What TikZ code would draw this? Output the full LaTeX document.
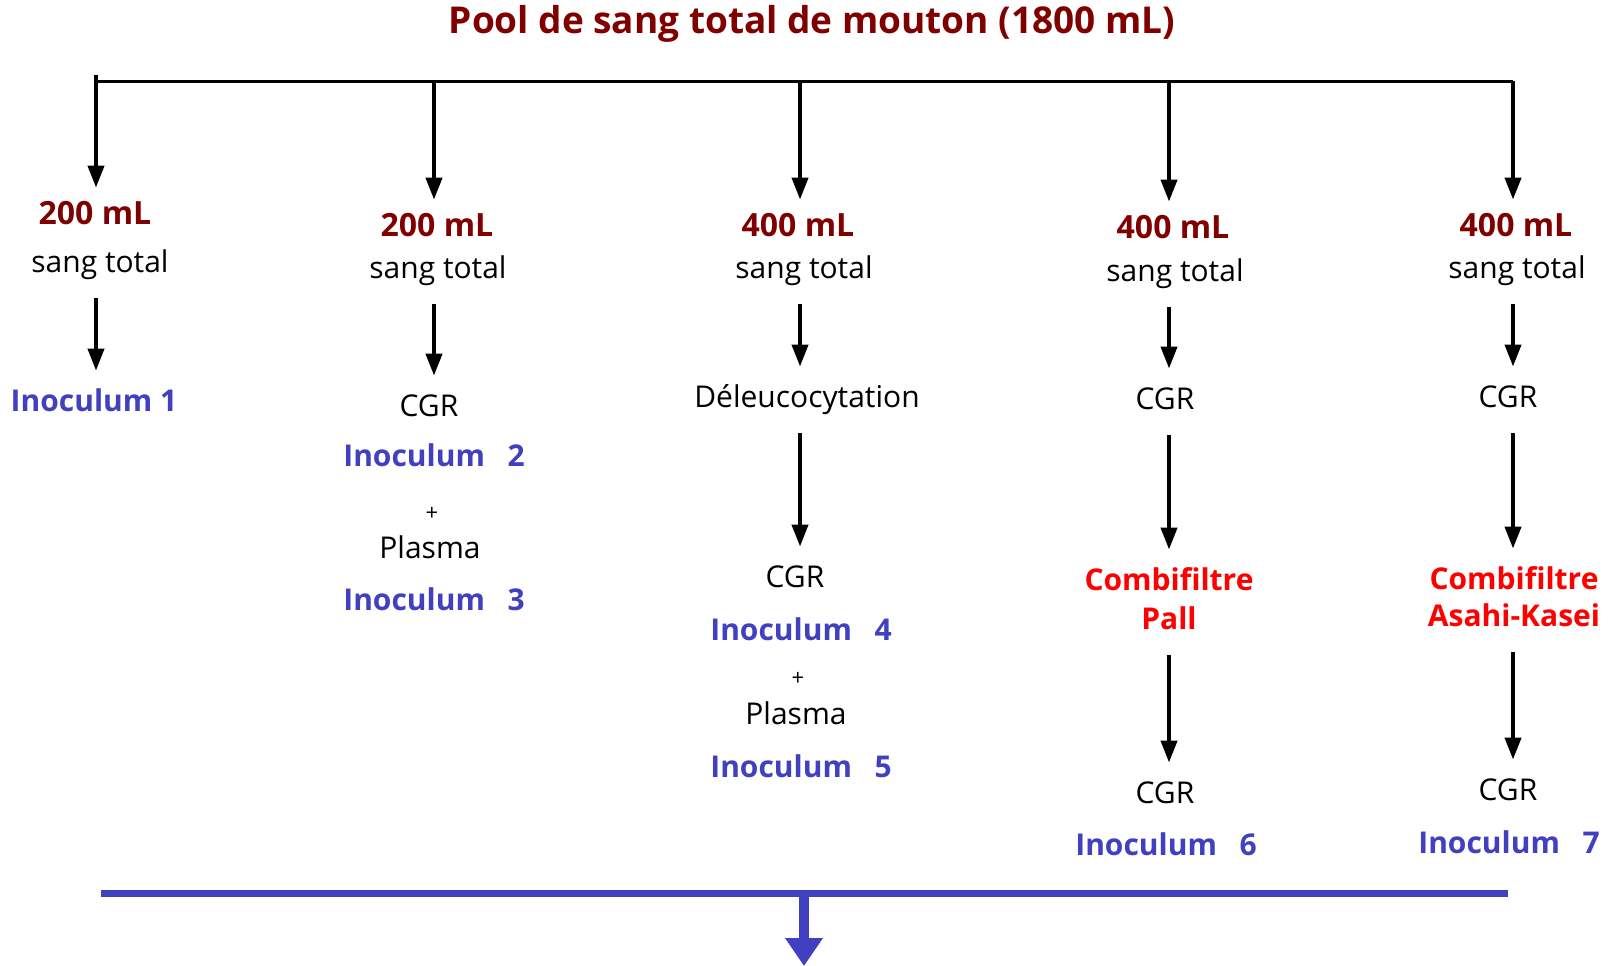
\documentclass[tikz,border=0pt]{standalone}
\usepackage{fontspec}
\setmainfont{Open Sans}
\usepackage{xcolor}
\usepackage{tikz}
\usetikzlibrary{arrows.meta}

\definecolor{sangrouge}{RGB}{128,0,0}
\definecolor{inocbleu}{RGB}{64,64,192}
\definecolor{filtrerouge}{RGB}{255,0,0}

\tikzset{
  txt/.style={inner sep=0pt, text height=11pt, text depth=3pt, yshift=-1.5pt, font=\fontsize{15}{18}\selectfont},
  titre/.style={inner sep=0pt, text=sangrouge, font=\fontsize{18.5}{22}\selectfont\bfseries},
  vol/.style={txt, text=sangrouge, font=\fontsize{16}{19}\selectfont\bfseries},
  inoc/.style={txt, text=inocbleu, font=\fontsize{15}{18}\selectfont\bfseries},
  filtre/.style={txt, text=filtrerouge, font=\fontsize{15}{18}\selectfont\bfseries},
  plus/.style={txt, font=\fontsize{11}{13}\selectfont},
  fleche/.style={-{Triangle[width=8pt,length=11pt]}, line width=2pt, shorten <=10pt, shorten >=9pt},
  haut/.style={fleche, shorten <=0pt, shorten >=7pt},
}

\begin{document}
\begin{tikzpicture}[x=0.5pt,y=-0.5pt]
    \useasboundingbox (0,0) rectangle (1617,965);
    \node[titre] (titre) at (812,24) {Pool de sang total de mouton (1800 mL)};
    % ligne de repartition
    \coordinate (h1) at (96,81);
    \coordinate (h2) at (434,81);
    \coordinate (h3) at (800,81);
    \coordinate (h4) at (1169,81);
    \coordinate (h5) at (1513,81);
    \draw[line width=1.5pt] (h1) -- (h5);

    % colonne 1
    \node[vol] (vol1) at (95,213) {200 mL};
    \node[txt] (sang1) at (100,261) {sang total};
    \node[inoc] (inoc1) at (94,400) {Inoculum 1};
    \draw[haut, shorten <=-3pt] (h1) -- (h1 |- vol1.north);
    \draw[fleche] (h1 |- sang1.south) -- (h1 |- inoc1.north);

    % colonne 2
    \node[vol] (vol2) at (437,225) {200 mL};
    \node[txt] (sang2) at (438,267) {sang total};
    \node[txt] (cgr2) at (429,405) {CGR};
    \node[inoc] (inoc2) at (434,455) {Inoculum\hspace{0.75em}2};
    \node[plus] (plus2) at (432,509) {+};
    \node[txt] (plasma2) at (430,547) {Plasma};
    \node[inoc] (inoc3) at (434,599) {Inoculum\hspace{0.75em}3};
    \draw[haut] (h2) -- (h2 |- vol2.north);
    \draw[fleche] (h2 |- sang2.south) -- (h2 |- cgr2.north);

    % colonne 3
    \node[vol] (vol3) at (798,225) {400 mL};
    \node[txt] (sang3) at (804,267) {sang total};
    \node[txt] (deleuco3) at (807,396) {Déleucocytation};
    \node[txt] (cgr3) at (795,576) {CGR};
    \node[inoc] (inoc4) at (801,629) {Inoculum\hspace{0.75em}4};
    \node[plus] (plus3) at (798,674) {+};
    \node[txt] (plasma3) at (796,713) {Plasma};
    \node[inoc] (inoc5) at (801,766) {Inoculum\hspace{0.75em}5};
    \draw[haut] (h3) -- (h3 |- vol3.north);
    \draw[fleche] (h3 |- sang3.south) -- (h3 |- deleuco3.north);
    \draw[fleche] (h3 |- deleuco3.south) -- (h3 |- cgr3.north);

    % colonne 4
    \node[vol] (vol4) at (1173,227) {400 mL};
    \node[txt] (sang4) at (1175,270) {sang total};
    \node[txt] (cgr4) at (1165,398) {CGR};
    \node[filtre] (comb4) at (1169,579) {Combifiltre};
    \node[filtre] (pall4) at (1169,618) {Pall};
    \node[txt] (cgr6) at (1165,792) {CGR};
    \node[inoc] (inoc6) at (1166,844) {Inoculum\hspace{0.75em}6};
    \draw[haut] (h4) -- (h4 |- vol4.north);
    \draw[fleche] (h4 |- sang4.south) -- (h4 |- cgr4.north);
    \draw[fleche] (h4 |- cgr4.south) -- (h4 |- comb4.north);
    \draw[fleche] (h4 |- pall4.south) -- (h4 |- cgr6.north);

    % colonne 5
    \node[vol] (vol5) at (1516,225) {400 mL};
    \node[txt] (sang5) at (1517,267) {sang total};
    \node[txt] (cgr5) at (1508,396) {CGR};
    \node[filtre] (comb5) at (1514,578) {Combifiltre};
    \node[filtre] (asahi5) at (1514,615) {Asahi-Kasei};
    \node[txt] (cgr7) at (1508,789) {CGR};
    \node[inoc] (inoc7) at (1509,842) {Inoculum\hspace{0.75em}7};
    \draw[haut] (h5) -- (h5 |- vol5.north);
    \draw[fleche] (h5 |- sang5.south) -- (h5 |- cgr5.north);
    \draw[fleche] (h5 |- cgr5.south) -- (h5 |- comb5.north);
    \draw[fleche] (h5 |- asahi5.south) -- (h5 |- cgr7.north);

    % regroupement
    \coordinate (b1) at (101,893);
    \coordinate (b2) at (1508,893);
    \coordinate (bfin) at (804,966);
    \draw[inocbleu, line width=3.5pt] (b1) -- (b2);
    \draw[inocbleu, line width=5pt, -{Triangle[width=18pt,length=14pt]}] (b1 -| bfin) -- (bfin);
\end{tikzpicture}
\end{document}
